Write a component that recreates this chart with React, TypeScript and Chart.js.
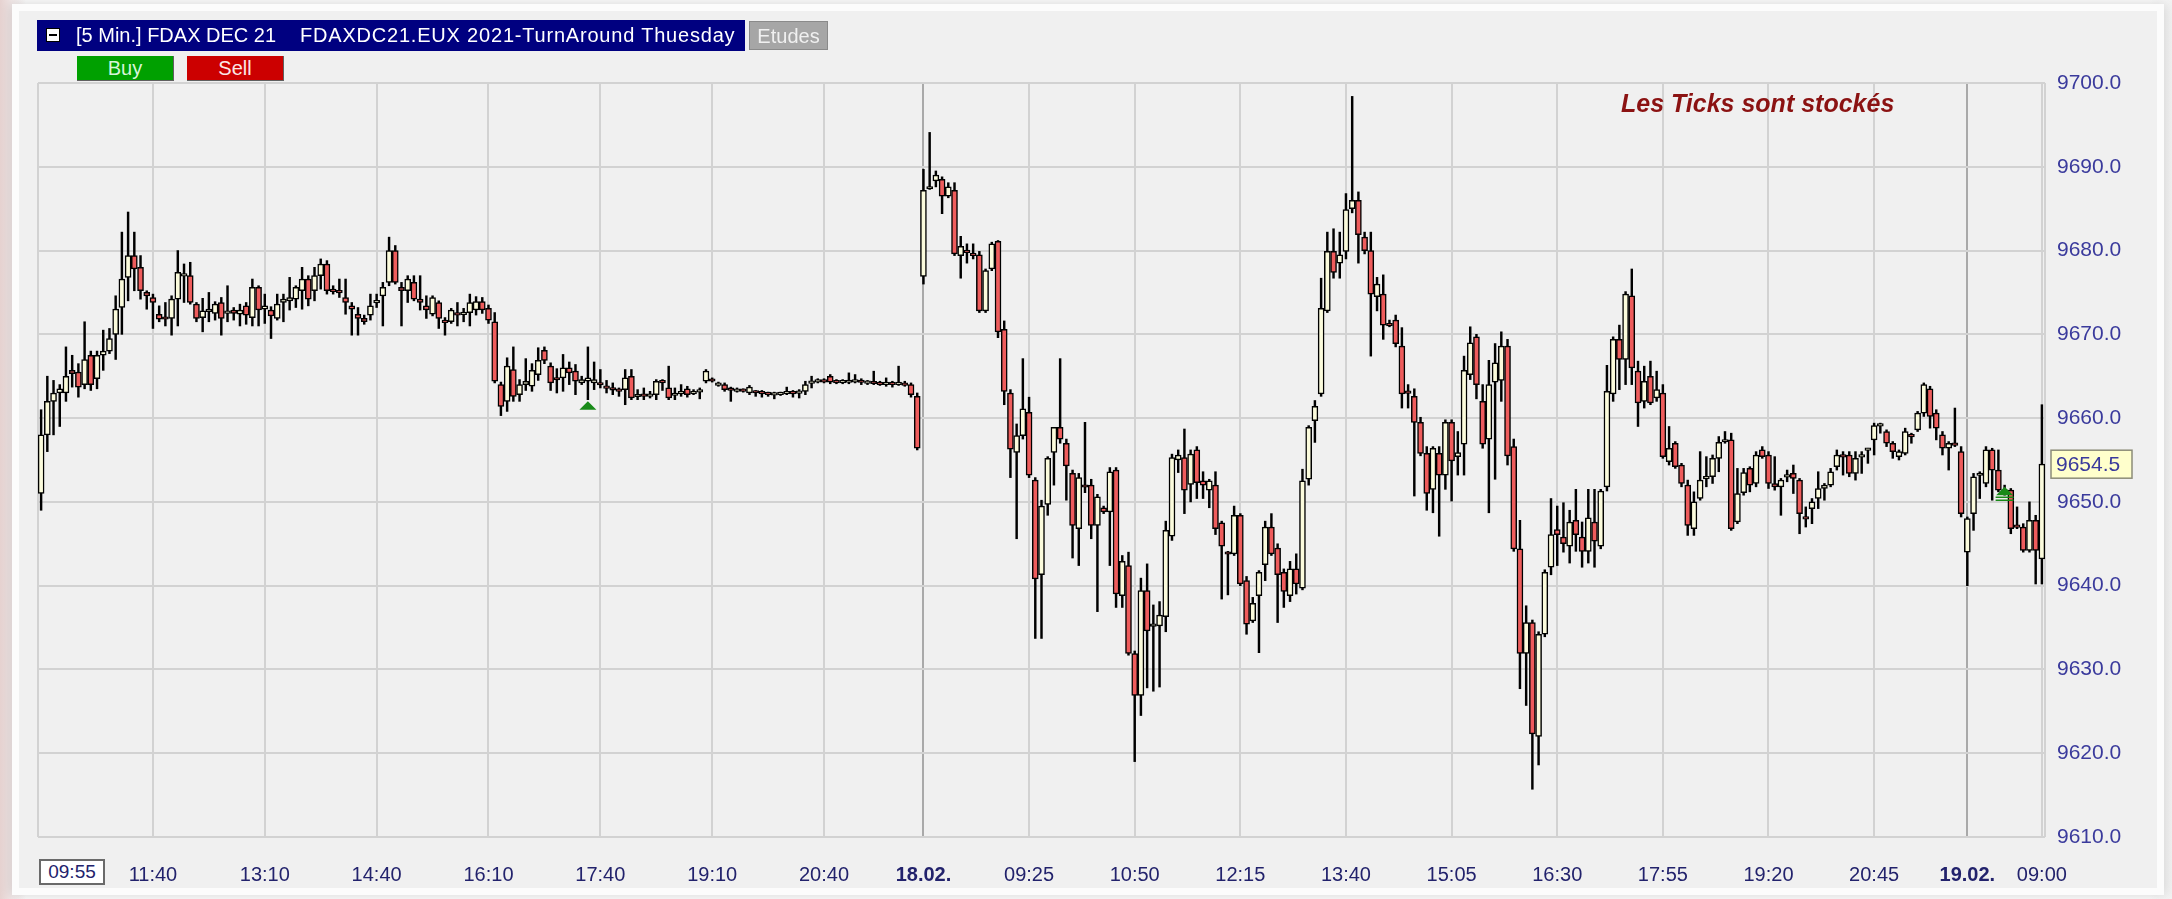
import React, { useEffect, useRef } from 'react';
import { Chart, registerables } from 'chart.js';

Chart.register(...registerables);

// [open, high, low, close]
type Bar = [number, number, number, number];

// 17.02 session, 5-minute bars from 10:10
const feb17: Bar[] = [
  [9651, 9661, 9649, 9658], [9658, 9665, 9656, 9662], [9662, 9664.5, 9658, 9663], [9663, 9664, 9659, 9663.5],
  [9663, 9668.5, 9662, 9665], [9665.7, 9667.5, 9663.7, 9665.3], [9665.5, 9666.5, 9662.5, 9663.7], [9664, 9671.5, 9663.5, 9667],
  [9667.5, 9668, 9663.3, 9664], [9664.7, 9668, 9663.5, 9667.5], [9667.5, 9670.5, 9665.7, 9668], [9668, 9670.7, 9667.7, 9669.5],
  [9670, 9674.6, 9667, 9673], [9673.2, 9682.2, 9670, 9676.6], [9676.8, 9684.6, 9674, 9679.4], [9679.4, 9682.2, 9675.2, 9677.8],
  [9678, 9679.4, 9674.2, 9675.2], [9675, 9675.2, 9673, 9674.6], [9674.4, 9674.8, 9670.7, 9673.8], [9672.4, 9673.4, 9671.5, 9671.8],
  [9672, 9673.8, 9671, 9671.9], [9671.9, 9674.6, 9669.9, 9674.2], [9674.2, 9680, 9671, 9677.4], [9677, 9678.4, 9673.8, 9677.2],
  [9677, 9678.6, 9673.6, 9673.8], [9673.6, 9673.8, 9671.5, 9671.9], [9672, 9674.3, 9670.3, 9672.8], [9672.8, 9675, 9671.5, 9672.9],
  [9672.5, 9673.9, 9671.7, 9673.6], [9673.8, 9674.4, 9669.9, 9671.9], [9672.6, 9675.8, 9671.5, 9672.7], [9672.9, 9673.2, 9671.7, 9672.5],
  [9672.4, 9673.6, 9671, 9672.9], [9673.4, 9673.8, 9671.2, 9672.3], [9672, 9676.6, 9671, 9675.6], [9675.6, 9675.8, 9671, 9672.9],
  [9673, 9674.8, 9671.3, 9673.4], [9672.9, 9673.3, 9669.5, 9672.2], [9671.9, 9674.8, 9671.7, 9673.6], [9673.8, 9674.8, 9671.5, 9674.2],
  [9674, 9676.8, 9672.9, 9674.4], [9674.2, 9675.8, 9673.2, 9675.6], [9675.2, 9678, 9673, 9676.6], [9676.6, 9677, 9673.4, 9674.2],
  [9675.2, 9678, 9674, 9677], [9677, 9679, 9675.4, 9678.4], [9678.4, 9678.8, 9674.8, 9675.2], [9675.4, 9675.8, 9674.8, 9675.1],
  [9675.2, 9676.6, 9674.4, 9675], [9674.4, 9676.6, 9672.4, 9673.8], [9673.4, 9673.8, 9669.9, 9673], [9672.4, 9673.2, 9669.9, 9671.9],
  [9671.9, 9672.3, 9671.2, 9671.5], [9672.3, 9674.8, 9671.7, 9673.4], [9673.8, 9674.8, 9673.2, 9674], [9674.6, 9676.2, 9671, 9675.6],
  [9676.2, 9681.6, 9675.8, 9680], [9680, 9680.6, 9676, 9676.2], [9675.6, 9676.2, 9671, 9675.2], [9675.2, 9677, 9673.8, 9676.6],
  [9676.2, 9677, 9674, 9674.2], [9674.2, 9677, 9672.9, 9673.8], [9673.4, 9674.6, 9671.9, 9672.9], [9672.4, 9674.6, 9672.2, 9674.4],
  [9673.8, 9674, 9670.7, 9671.9], [9671.6, 9672, 9669.9, 9671.5], [9671.5, 9673.1, 9671.3, 9672.9], [9672.5, 9673.8, 9671, 9672.4],
  [9672.4, 9673.1, 9671.5, 9672.6], [9672.6, 9674.8, 9671, 9673.8], [9672.9, 9674.5, 9672.3, 9673.9], [9673.9, 9674.4, 9672.5, 9672.9],
  [9673.1, 9673.5, 9671.3, 9671.7], [9671.5, 9672.6, 9664.2, 9664.4], [9664, 9664.3, 9660.3, 9661.4], [9662, 9667.2, 9660.8, 9666.2],
  [9665.8, 9668.5, 9662, 9662.6], [9662.8, 9664.6, 9662, 9664], [9664, 9667.1, 9663.3, 9664.4], [9663.8, 9666.5, 9663.2, 9665.7],
  [9665.2, 9668.4, 9664.5, 9666.9], [9668.1, 9668.5, 9666.5, 9666.9], [9666.2, 9666.6, 9663.3, 9664.2], [9664.8, 9665.9, 9663, 9664.6],
  [9664.8, 9667.6, 9663.2, 9666], [9666, 9666.7, 9664, 9665.4], [9665.6, 9666.4, 9662.8, 9664.4], [9664.2, 9665, 9664, 9664.6],
  [9664.4, 9668.5, 9662.2, 9664.8], [9664.2, 9666.7, 9663.4, 9664.6], [9664.2, 9665.8, 9663.6, 9664], [9663.8, 9664.5, 9663, 9663.6],
  [9663.6, 9664.2, 9662.8, 9663.4], [9663.4, 9663.6, 9662.6, 9663.3], [9663.4, 9665.8, 9661.6, 9664.8], [9665, 9665.8, 9662.2, 9662.4],
  [9662.6, 9663.4, 9662.2, 9662.8], [9662.8, 9663.6, 9662.2, 9662.7], [9662.7, 9663.2, 9662.4, 9662.8], [9662.8, 9664.6, 9662.2, 9664.4],
  [9664.4, 9664.6, 9663.3, 9664.3], [9663.6, 9666.2, 9662.2, 9662.4], [9662.8, 9663.6, 9662.2, 9662.9], [9663, 9664, 9662.6, 9663.1],
  [9663.5, 9663.8, 9662.5, 9662.8], [9663, 9663.4, 9662.8, 9663.1], [9663.2, 9663.6, 9662.3, 9663.3], [9664.4, 9665.8, 9664.2, 9665.6],
  [9664.6, 9664.8, 9664.3, 9664.5], [9664, 9664.3, 9663.8, 9664.1], [9664, 9664.2, 9663.2, 9663.4], [9663.5, 9663.7, 9662, 9663.4],
  [9663.3, 9663.6, 9663.1, 9663.4], [9663.4, 9663.5, 9663.1, 9663.3], [9663, 9663.9, 9662.8, 9663.7], [9663.2, 9663.3, 9662.6, 9663.1],
  [9663.1, 9663.3, 9662.5, 9663], [9663, 9663.1, 9662.6, 9662.9], [9662.9, 9663.1, 9662.3, 9662.9], [9662.9, 9663.1, 9662.7, 9663],
  [9663, 9663.7, 9662.8, 9663.1], [9663.1, 9663.3, 9662.5, 9663], [9663, 9663.4, 9662.4, 9663.2], [9663.2, 9664.4, 9662.8, 9664],
  [9664.2, 9665, 9663.6, 9664.4], [9664.4, 9664.7, 9664.2, 9664.5], [9664.5, 9664.7, 9664.2, 9664.4], [9665, 9665.2, 9664.1, 9664.3],
  [9664.4, 9664.6, 9664.1, 9664.3], [9664.3, 9664.6, 9664.1, 9664.4], [9664.4, 9665.4, 9664.1, 9664.4], [9664.4, 9665.2, 9664.2, 9664.5],
  [9664.5, 9664.7, 9664, 9664.3], [9664.3, 9664.5, 9664, 9664.3], [9664.3, 9665.6, 9664, 9664.2], [9664.2, 9664.4, 9663.9, 9664.1],
  [9664.1, 9664.8, 9663.8, 9664.2], [9664.2, 9664.4, 9663.7, 9664.1], [9664.1, 9666.2, 9663.9, 9664.2], [9664.1, 9664.4, 9663.8, 9664],
  [9664, 9664.2, 9662.5, 9662.8], [9662.6, 9663, 9656.2, 9656.4],
];

// 18.02 session, 5-minute bars from 08:00
const feb18: Bar[] = [
  [9676.9, 9689.7, 9676, 9687.2], [9687.4, 9694.1, 9687.3, 9687.6], [9688.3, 9689.5, 9687.6, 9689], [9688.5, 9688.8, 9684.4, 9686.5],
  [9686.5, 9688.1, 9686.3, 9687.6], [9687.2, 9688.1, 9679.4, 9679.6], [9679.4, 9681.7, 9676.7, 9680.5], [9680, 9680.8, 9678.5, 9679.8],
  [9679.7, 9680.8, 9679, 9679.4], [9679.5, 9679.9, 9672.6, 9672.8], [9672.8, 9677.8, 9672.6, 9677.6], [9677.8, 9681, 9677.6, 9680.8],
  [9681.1, 9681.2, 9669.6, 9670.3], [9670.6, 9671.6, 9661.6, 9663.2], [9663, 9663.4, 9652.9, 9656.3], [9655.9, 9659.3, 9645.6, 9657.9],
  [9657.9, 9667.1, 9657.5, 9661.1], [9660.7, 9662.5, 9652.9, 9653.2], [9652.6, 9652.9, 9633.7, 9640.8], [9641.3, 9650.2, 9633.7, 9649.5],
  [9649.7, 9655.4, 9648.4, 9655.2], [9655.9, 9658.9, 9652, 9658.9], [9658.9, 9667.1, 9657, 9657.5], [9657, 9657.5, 9650.2, 9654.3],
  [9653.4, 9653.8, 9643.3, 9647.2], [9646.8, 9653.4, 9642.4, 9652.9], [9652, 9659.5, 9651.1, 9651.8], [9652, 9652.7, 9645.6, 9647.2],
  [9647.2, 9650.9, 9636.9, 9650.6], [9649.3, 9649.5, 9648.6, 9648.8], [9648.8, 9654.1, 9642.4, 9653.6], [9653.8, 9654.1, 9637.4, 9639],
  [9638.8, 9643.6, 9637.4, 9642.9], [9642.4, 9644, 9631.7, 9631.9], [9631.9, 9632.2, 9619, 9626.9], [9626.9, 9640.9, 9624.5, 9639.4],
  [9639.4, 9642.6, 9627.8, 9634.6], [9635.2, 9637.7, 9627.4, 9635.4], [9635.2, 9638.1, 9627.9, 9636.5], [9636.3, 9647.7, 9634.5, 9646.6],
  [9645.9, 9655.7, 9645.4, 9655.3], [9655, 9656.2, 9653.5, 9655.6], [9655.3, 9658.7, 9648.6, 9651.4], [9652.1, 9656.2, 9650, 9655.7],
  [9656.2, 9656.6, 9650.4, 9652.3], [9652.5, 9653.6, 9650.4, 9652], [9651.4, 9652.7, 9649.3, 9652.5], [9652, 9653.6, 9646.1, 9646.8],
  [9647.5, 9647.7, 9638.4, 9644.7], [9644, 9644.1, 9638.9, 9643.8], [9643.8, 9649.5, 9643.6, 9648.4], [9648.4, 9648.6, 9640, 9640.2],
  [9640.6, 9641.1, 9634.2, 9635.4], [9635.8, 9638.6, 9635.6, 9637.9], [9638.8, 9641.8, 9632, 9641.6], [9642.5, 9647.7, 9640.6, 9647],
  [9647, 9648.6, 9643.6, 9643.8], [9644.5, 9645, 9635.6, 9641.3], [9641.6, 9642, 9637.4, 9639.3], [9638.8, 9642.9, 9638.1, 9642],
  [9642, 9643.8, 9639, 9640.2], [9639.7, 9653.9, 9639.5, 9652.5], [9652.7, 9659.1, 9652, 9658.9], [9659.7, 9662.1, 9657.1, 9661.4],
  [9662.9, 9676.7, 9662.6, 9673.1], [9672.8, 9682.2, 9672.6, 9679.9], [9679.9, 9682.6, 9676.7, 9677.4], [9678.5, 9682.2, 9676.7, 9679.5],
  [9679.9, 9686.8, 9679, 9684.9], [9685, 9698.4, 9684.5, 9686], [9686, 9687, 9678.5, 9681.9], [9681.6, 9682.2, 9679.6, 9680],
  [9680, 9682.2, 9667.4, 9674.8], [9674.5, 9676.8, 9672.8, 9676], [9674.8, 9677.1, 9669.4, 9671.1], [9671.2, 9671.7, 9670.9, 9671.1],
  [9671.7, 9672.3, 9668.5, 9668.9], [9668.6, 9670.8, 9661.2, 9662.9], [9663.2, 9664, 9661.2, 9663], [9662.6, 9663.5, 9650.7, 9659.5],
  [9659.5, 9660.1, 9655.5, 9655.8], [9655.8, 9656.6, 9649, 9651], [9651.5, 9656.6, 9648.7, 9656.4], [9655.8, 9656.6, 9645.9, 9653.2],
  [9653.2, 9659.8, 9651.5, 9659.5], [9659.5, 9659.8, 9650.1, 9654.9], [9655.4, 9658.4, 9653.2, 9655.9], [9656.9, 9667.4, 9653.2, 9665.7],
  [9665.2, 9670.9, 9664.6, 9669], [9669.7, 9670, 9662.3, 9664], [9662, 9664, 9656.4, 9656.9], [9657.5, 9666.9, 9648.7, 9664],
  [9664.3, 9668.9, 9652.7, 9666.6], [9664.5, 9670.3, 9662, 9668.6], [9668.6, 9669.4, 9654.4, 9655.5], [9656.6, 9657.5, 9644.1, 9644.4],
  [9644.4, 9647.8, 9627.7, 9631.9], [9631.9, 9637.6, 9625.7, 9635.6], [9635.6, 9635.9, 9615.7, 9622.3], [9622, 9634.5, 9618.6, 9634.2],
  [9634.2, 9641.9, 9633.9, 9641.6], [9642.2, 9650.4, 9641.3, 9646.1], [9646.7, 9649.5, 9642.4, 9646.1], [9645.8, 9649.9, 9644, 9645],
  [9644.7, 9649, 9642.7, 9647.6], [9647.8, 9651.5, 9644.1, 9646.1], [9645.8, 9647.6, 9642.2, 9644.1], [9644.1, 9651.5, 9642.7, 9648.1],
  [9647.6, 9651.5, 9642.2, 9645.3], [9644.7, 9651.5, 9644.4, 9651.3], [9651.8, 9666.3, 9651.3, 9663.2], [9662.9, 9669.7, 9662, 9669.4],
  [9669.4, 9671.1, 9663.4, 9667], [9667, 9675.1, 9664, 9674.8], [9674.6, 9677.8, 9664, 9666], [9665.6, 9666.8, 9659, 9661.8],
  [9662, 9666.2, 9661.2, 9664.4], [9665, 9666.8, 9661.6, 9661.8], [9662.4, 9665.6, 9662, 9663.4], [9663, 9664, 9655.2, 9655.4],
  [9654.8, 9659, 9654.4, 9656.4], [9657, 9657.2, 9654, 9654.2], [9654.4, 9654.6, 9651.8, 9652.2], [9652, 9652.6, 9646, 9647.2],
  [9646.8, 9651.2, 9646, 9650], [9650.4, 9656, 9650.2, 9652.6], [9652.8, 9655.4, 9651.8, 9653], [9653, 9655.6, 9652.2, 9655.2],
  [9655.2, 9657.8, 9653.6, 9657.1], [9657.2, 9658.4, 9657, 9657.4], [9657.4, 9658.2, 9646.6, 9646.8], [9647.6, 9654, 9647.4, 9651],
  [9651.1, 9654, 9650.8, 9653.5], [9654, 9654.2, 9651.2, 9652], [9652.2, 9656, 9651.8, 9655.6], [9656.2, 9656.6, 9655.2, 9655.4],
  [9655.6, 9656, 9651.6, 9652.2], [9652.2, 9655.4, 9651.4, 9651.8], [9651.8, 9652.8, 9648.4, 9652.6], [9653, 9653.8, 9652.4, 9653.2],
  [9653.4, 9654.4, 9651, 9652.8], [9652.6, 9652.8, 9646.2, 9648.6], [9648.2, 9649.4, 9647, 9648], [9649.2, 9650.4, 9647.4, 9650],
  [9650.4, 9653.6, 9649.2, 9651.6], [9651.6, 9652.2, 9650.2, 9652], [9652, 9654, 9651.8, 9653.6], [9654.2, 9656.2, 9653.8, 9655.6],
  [9655.6, 9656, 9653.2, 9655.4], [9655.6, 9656, 9653, 9653.4], [9653.4, 9656, 9652.6, 9655.2], [9655.4, 9656, 9653.4, 9655.6],
  [9656.2, 9656.4, 9654.6, 9656.4], [9657.4, 9659.4, 9655.6, 9659.1], [9659.2, 9659.4, 9658.2, 9659.2], [9658.4, 9658.6, 9656.6, 9657],
  [9657, 9657.2, 9655.2, 9656], [9655.4, 9656.2, 9655, 9656], [9655.8, 9658.8, 9655.6, 9658.4], [9658, 9658.2, 9657, 9657.8],
  [9658.6, 9660.8, 9658.4, 9660.6], [9660.6, 9664.2, 9660.2, 9664], [9663.5, 9663.8, 9658.8, 9660.2], [9660.6, 9661, 9657.4, 9658.8],
  [9658, 9658.4, 9655.6, 9656.4], [9656.4, 9657.2, 9653.8, 9657], [9657, 9661.2, 9656.6, 9656.8], [9656, 9656.6, 9648.2, 9648.6],
];

// 19.02 session, 5-minute bars from 08:00
const feb19: Bar[] = [
  [9644, 9648.2, 9640, 9648], [9648.6, 9653.4, 9646.6, 9653], [9653.2, 9653.6, 9650.4, 9653.4], [9652.2, 9656.6, 9651.8, 9656.2],
  [9656.2, 9656.4, 9650.2, 9653.8], [9653.8, 9656.2, 9651.2, 9651.4], [9651.4, 9652, 9650.8, 9651.2], [9651.4, 9651.6, 9646.2, 9646.8],
  [9647.2, 9649.4, 9646.8, 9647], [9647, 9647.4, 9644, 9644.2], [9644.2, 9650, 9644, 9647.8], [9647.8, 9648.4, 9640.2, 9644.2],
  [9643.2, 9661.6, 9640.2, 9654.5],
];

const sessionStarts = ['10:10', '08:00', '08:00'];

// [bar index, label, bold date label]
const xTicks: [number, string, boolean][] = [
  [18, '11:40', false], [36, '13:10', false], [54, '14:40', false], [72, '16:10', false],
  [90, '17:40', false], [108, '19:10', false], [126, '20:40', false], [142, '18.02.', true],
  [159, '09:25', false], [176, '10:50', false], [193, '12:15', false], [210, '13:40', false],
  [227, '15:05', false], [244, '16:30', false], [261, '17:55', false], [278, '19:20', false],
  [295, '20:45', false], [310, '19.02.', true], [322, '09:00', false],
];

const yMin = 9610;
const yMax = 9700;
const yStep = 10;
const lastPrice = 9654.5;

// signal markers: [bar index, value at apex, has exit lines]
const signals: [number, number, boolean][] = [
  [88, 9662.0, false],
  [316, 9651.8, true],
];

const UP = '#fbfbdc';
const DOWN = '#ee5c5c';
const FONT = '"Liberation Sans", Arial, sans-serif';

function timeLabels(start: string, n: number): string[] {
  const [h, m] = start.split(':').map(Number);
  const out: string[] = [];
  for (let i = 0; i < n; i++) {
    const t = h * 60 + m + i * 5;
    out.push(String(Math.floor(t / 60)).padStart(2, '0') + ':' + String(t % 60).padStart(2, '0'));
  }
  return out;
}

export default function App() {
  const ref = useRef<HTMLCanvasElement>(null);

  useEffect(() => {
    const sessions = [feb17, feb18, feb19];
    const bars: Bar[] = ([] as Bar[]).concat(...sessions);
    const labels: string[] = [];
    sessions.forEach((s, k) => {
      timeLabels(sessionStarts[k], s.length).forEach((t) => labels.push(`${k}-${t}`));
    });
    const tickMap = new Map<number, { t: string; b: boolean }>();
    xTicks.forEach(([i, t, b]) => tickMap.set(i, { t, b }));

    const bodies = bars.map((b) => {
      let lo = Math.min(b[0], b[3]);
      let hi = Math.max(b[0], b[3]);
      if (hi - lo < 0.3) {
        const mid = (hi + lo) / 2;
        lo = mid - 0.15;
        hi = mid + 0.15;
      }
      return [lo, hi];
    });

    const framePlugin = {
      id: 'frame',
      beforeDatasetsDraw(chart: any) {
        const { ctx, chartArea: a } = chart;
        ctx.save();
        ctx.strokeStyle = '#d2d2d2';
        ctx.lineWidth = 2;
        ctx.beginPath();
        ctx.moveTo(a.left, a.top);
        ctx.lineTo(a.left, a.bottom);
        ctx.moveTo(a.right, a.top);
        ctx.lineTo(a.right, a.bottom);
        ctx.stroke();
        ctx.restore();
      },
    };

    const markerPlugin = {
      id: 'markers',
      afterDatasetsDraw(chart: any) {
        const { ctx } = chart;
        const x = chart.scales.x;
        const y = chart.scales.y;
        ctx.save();
        signals.forEach(([i, v, exit]) => {
          const px = x.getPixelForValue(i);
          const py = y.getPixelForValue(v);
          ctx.fillStyle = '#188a18';
          ctx.beginPath();
          ctx.moveTo(px, py);
          ctx.lineTo(px + 8.5, py + 8.5);
          ctx.lineTo(px - 8.5, py + 8.5);
          ctx.closePath();
          ctx.fill();
          if (exit) {
            ctx.strokeStyle = '#188a18';
            ctx.lineWidth = 1.5;
            ctx.beginPath();
            ctx.moveTo(px - 9, py + 10.5);
            ctx.lineTo(px + 9, py + 10.5);
            ctx.moveTo(px - 9, py + 13.5);
            ctx.lineTo(px + 9, py + 13.5);
            ctx.stroke();
          }
        });
        ctx.restore();
      },
    };

    const pricePlugin = {
      id: 'price',
      afterDraw(chart: any) {
        const { ctx, chartArea: a } = chart;
        const py = chart.scales.y.getPixelForValue(lastPrice);
        ctx.save();
        ctx.fillStyle = '#ffffcc';
        ctx.fillRect(a.right + 6, py - 14, 81, 28);
        ctx.strokeStyle = '#8c8c78';
        ctx.lineWidth = 1.5;
        ctx.strokeRect(a.right + 6, py - 14, 81, 28);
        ctx.fillStyle = '#3a3a9c';
        ctx.font = `21px ${FONT}`;
        ctx.textBaseline = 'middle';
        ctx.textAlign = 'left';
        ctx.fillText(lastPrice.toFixed(1), a.right + 11, py + 1);
        ctx.restore();
      },
    };

    const chart = new Chart(ref.current as HTMLCanvasElement, {
      type: 'bar',
      data: {
        labels,
        datasets: [
          {
            label: 'wick',
            data: bars.map((b) => [b[2], b[1]]) as any,
            backgroundColor: '#000000',
            barThickness: 1.8,
            grouped: false,
            order: 2,
          } as any,
          {
            label: 'body',
            data: bodies as any,
            backgroundColor: bars.map((b) => (b[3] >= b[0] ? UP : DOWN)),
            borderColor: '#000000',
            borderWidth: 1.5,
            borderSkipped: false,
            barThickness: 6,
            grouped: false,
            order: 1,
          } as any,
        ],
      },
      options: {
        responsive: false,
        animation: false,
        devicePixelRatio: 1,
        layout: { padding: { left: 38, top: 83, right: 0, bottom: 0 } },
        plugins: { legend: { display: false }, tooltip: { enabled: false } },
        scales: {
          x: {
            type: 'category',
            offset: true,
            border: { display: false },
            grid: {
              offset: false,
              drawTicks: false,
              lineWidth: 2,
              color: (c: any) => {
                const t = tickMap.get(c.index);
                if (!t) return 'rgba(0,0,0,0)';
                return t.b ? '#a9a9a9' : '#d2d2d2';
              },
            },
            ticks: {
              autoSkip: false,
              maxRotation: 0,
              minRotation: 0,
              padding: 26,
              color: '#22226c',
              font: (c: any) => ({
                family: FONT,
                size: 20,
                weight: tickMap.get(c.index)?.b ? 'bold' : 'normal',
              }),
              callback: (_v: any, i: number) => tickMap.get(i)?.t ?? '',
            },
            afterFit: (s: any) => {
              s.height = 62;
            },
          } as any,
          y: {
            position: 'right',
            min: yMin,
            max: yMax,
            border: { display: false },
            grid: { color: '#d2d2d2', lineWidth: 2, drawTicks: false },
            ticks: {
              stepSize: yStep,
              padding: 12,
              color: '#3a3a9c',
              font: { family: FONT, size: 21 },
              callback: (v: any) => Number(v).toFixed(1),
            },
            afterFit: (s: any) => {
              s.width = 127;
            },
          } as any,
        },
      },
      plugins: [framePlugin, markerPlugin, pricePlugin],
    });
    return () => chart.destroy();
  }, []);

  const btn = (bg: string, fg: string): React.CSSProperties => ({
    position: 'absolute',
    top: 56,
    width: 97,
    height: 25,
    background: bg,
    color: fg,
    font: `20px ${FONT}`,
    lineHeight: '25px',
    textAlign: 'center',
    boxSizing: 'border-box',
    borderRight: '1px solid #606060',
    borderBottom: '1px solid #606060',
  });

  return (
    <div
      style={{
        position: 'fixed',
        left: 0,
        top: 0,
        width: 2172,
        height: 899,
        overflow: 'hidden',
        background: 'linear-gradient(90deg, #e6d2d0 0px, #f3eaea 12px, #ffffff 26px, #ffffff 2150px, #f3f3f3 2172px)',
        fontFamily: FONT,
      }}
    >
      <div
        style={{
          position: 'absolute',
          left: 19,
          top: 11,
          width: 2138,
          height: 877,
          background: '#f0f0f0',
          boxShadow: '0 0 0 7px #fcfcfc, 0 0 12px 8px rgba(0,0,0,0.16)',
        }}
      />
      <canvas ref={ref} width={2172} height={899} style={{ position: 'absolute', left: 0, top: 0 }} />
      <div
        style={{
          position: 'absolute',
          left: 37,
          top: 20,
          width: 708,
          height: 31,
          background: '#000080',
          color: '#ffffff',
          font: `20px ${FONT}`,
          lineHeight: '31px',
          whiteSpace: 'pre',
        }}
      >
        <span
          style={{
            position: 'absolute',
            left: 9,
            top: 8,
            width: 14,
            height: 14,
            background: '#ffffff',
            border: '1px solid #000',
            boxSizing: 'border-box',
          }}
        >
          <span style={{ position: 'absolute', left: 2, top: 5, width: 8, height: 2, background: '#000' }} />
        </span>
        <span style={{ position: 'absolute', left: 39 }}>[5 Min.] FDAX DEC 21</span>
        <span style={{ position: 'absolute', left: 263, letterSpacing: '0.8px' }}>
          FDAXDC21.EUX 2021-TurnAround Thuesday
        </span>
      </div>
      <div
        style={{
          position: 'absolute',
          left: 749,
          top: 21,
          width: 79,
          height: 29,
          background: '#a6a6a6',
          color: '#f0f0f0',
          font: `20px ${FONT}`,
          lineHeight: '29px',
          textAlign: 'center',
          boxSizing: 'border-box',
          border: '1px solid #8a8a8a',
        }}
      >
        Etudes
      </div>
      <div style={{ ...btn('#00a000', '#d8f5d8'), left: 77 }}>Buy</div>
      <div style={{ ...btn('#cc0000', '#fbe6e6'), left: 187 }}>Sell</div>
      <div
        style={{
          position: 'absolute',
          left: 1621,
          top: 89,
          color: '#8b1212',
          font: `italic bold 25px ${FONT}`,
          lineHeight: '29px',
          whiteSpace: 'pre',
        }}
      >
        Les Ticks sont stockés
      </div>
      <div
        style={{
          position: 'absolute',
          left: 39,
          top: 859,
          width: 66,
          height: 26,
          background: '#ffffff',
          border: '2px solid #6a6a6a',
          boxSizing: 'border-box',
          color: '#22226c',
          font: `19px ${FONT}`,
          lineHeight: '22px',
          textAlign: 'center',
        }}
      >
        09:55
      </div>
    </div>
  );
}
